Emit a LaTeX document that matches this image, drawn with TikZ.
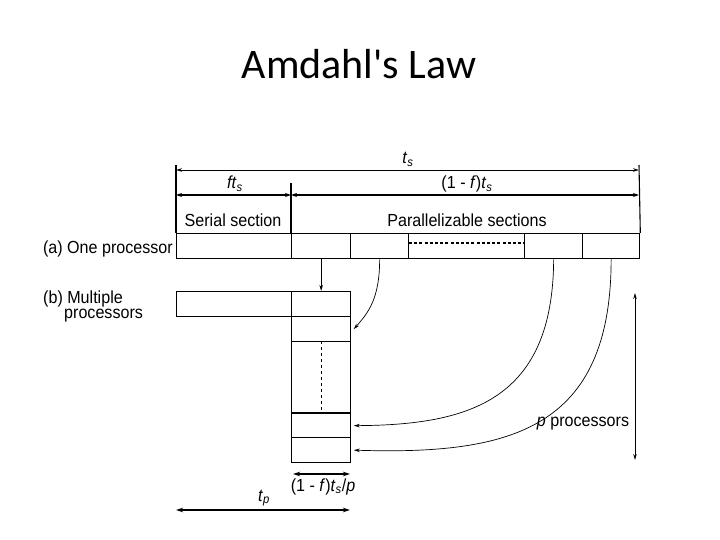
\documentclass[tikz,border=0pt]{standalone}
\usepackage{fontspec}
\setmainfont{Liberation Sans}
\newfontfamily\titlefont{Carlito}
\newfontfamily\labfont[FakeStretch=0.92]{Liberation Sans}
\usetikzlibrary{arrows.meta,calc}
\begin{document}
\begin{tikzpicture}[x=1pt,y=-1pt,
  cell/.style={draw, line width=1.3pt, inner sep=0pt, anchor=north west, minimum height=25pt},
  lab/.style={font=\labfont\fontsize{17.5}{17.5}\selectfont, inner sep=0pt},
  dimthin/.style={line width=0.9pt, {Stealth[length=6pt,width=3.5pt]}-{Stealth[length=6pt,width=3.5pt]}},
  dimthick/.style={line width=1.5pt, {Stealth[length=6pt,width=4pt]}-{Stealth[length=6pt,width=4pt]}},
  dimbold/.style={line width=2pt, {Stealth[length=7pt,width=4.5pt]}-{Stealth[length=7pt,width=4.5pt]}},
  curve/.style={line width=0.7pt, -{Stealth[length=6pt,width=3.5pt]}},
  guide/.style={line width=1.1pt}]
\useasboundingbox (0,0) rectangle (720,540);

% title
\node[font=\titlefont\fontsize{42}{42}\selectfont, inner sep=0pt, anchor=base] (title) at (359,79) {Amdahl's Law};

% row (a): one processor
\node[cell, minimum width=115pt] (a0) at (176,233) {};
\node[cell, minimum width=59pt]  (a1) at (291,233) {};
\node[cell, minimum width=58pt]  (a2) at (350,233) {};
\node[cell, minimum width=116pt] (a3) at (408,233) {};
\node[cell, minimum width=58pt]  (a4) at (524,233) {};
\node[cell, minimum width=57pt]  (a5) at (582,233) {};
\draw[line width=1.8pt, dash pattern=on 3pt off 2.2pt] ($(a3.north west)+(1,10)$) -- ($(a3.north east)+(-1,10)$);

% row (b): multiple processors
\node[cell, minimum width=115pt] (b0) at (176,291) {};
\node[cell, minimum width=59pt]  (b1) at (291,291) {};
\node[cell, minimum width=59pt]  (c1) at (291,316) {};
\node[cell, minimum width=59pt, minimum height=72pt] (c2) at (291,341) {};
\node[cell, minimum width=59pt, minimum height=24pt] (c3) at (291,413) {};
\node[cell, minimum width=59pt]  (c4) at (291,437) {};
\draw[line width=2.2pt] (c3.north west) -- (c3.north east);
\draw[line width=1pt, dashed] (c2.north) -- (c2.south);

% guide lines and dimensions at the top
\coordinate (tsL) at (176,170);
\coordinate (tsR) at (639,170);
\coordinate (fsL) at (176,195);
\coordinate (fsM) at (291,195);
\coordinate (fsR) at (639,195);
\draw[guide] (a0.north west) -- (176,165);
\draw[guide] (a5.north east) -- (639,165);
\draw[guide] (a1.north west) -- (291,183);
\draw[dimthin] (tsL) -- (tsR);
\draw[dimthick] (fsL) -- (fsM);
\draw[dimthick] (fsM) -- (fsR);

\node[lab, anchor=base] (ts) at (408,164) {\textit{t}\textsubscript{\textit{s}}};
\node[lab, anchor=base] (fts) at (235,189) {\textit{ft}\textsubscript{\textit{s}}};
\node[lab, anchor=base] (pfts) at (467,189) {(1 - \textit{f})\textit{t}\textsubscript{\textit{s}}};
\node[lab, anchor=base] (serial) at (233,226) {Serial section};
\node[lab, anchor=base] (par) at (467,226) {Parallelizable sections};

% row labels
\node[lab, anchor=base east] (la) at (173,254) {(a) One processor};
\node[lab, anchor=base west, align=left, font=\labfont\fontsize{17.5}{15}\selectfont] (lb) at (43,318) {(b) Multiple\\\hspace*{21pt}processors};

% arrows from one processor to multiple processors
\draw[curve] (a1.south) -- (b1.north);
\draw[curve] (a2.south) .. controls +(0,40) and +(14,-16) .. ([xshift=2.5pt]c1.east);
\draw[curve] (a4.south) .. controls (553,400) and (470,425) .. ([xshift=2.5pt]c3.east);
\draw[curve] (a5.south) .. controls (611,430) and (510,455) .. ([xshift=2.5pt]c4.east);

% p processors
\coordinate (pT) at (635,293);
\coordinate (pB) at (635,460);
\draw[dimthin] (pT) -- (pB);
\node[lab, anchor=base] (pp) at (583,426) {\textit{p} processors};

% bottom dimensions
\coordinate (wL) at (293,474);
\coordinate (wR) at (350,474);
\coordinate (tpL) at (176,510);
\coordinate (tpR) at (350,510);
\draw[dimbold] (wL) -- (wR);
\draw[dimbold] (tpL) -- (tpR);
\node[lab, anchor=base] (w) at (323,491) {(1 - \textit{f})\textit{t}\textsubscript{\textit{s}}/\textit{p}};
\node[lab, anchor=base] (tp) at (264,501) {\textit{t}\textsubscript{\textit{p}}};
\end{tikzpicture}
\end{document}
